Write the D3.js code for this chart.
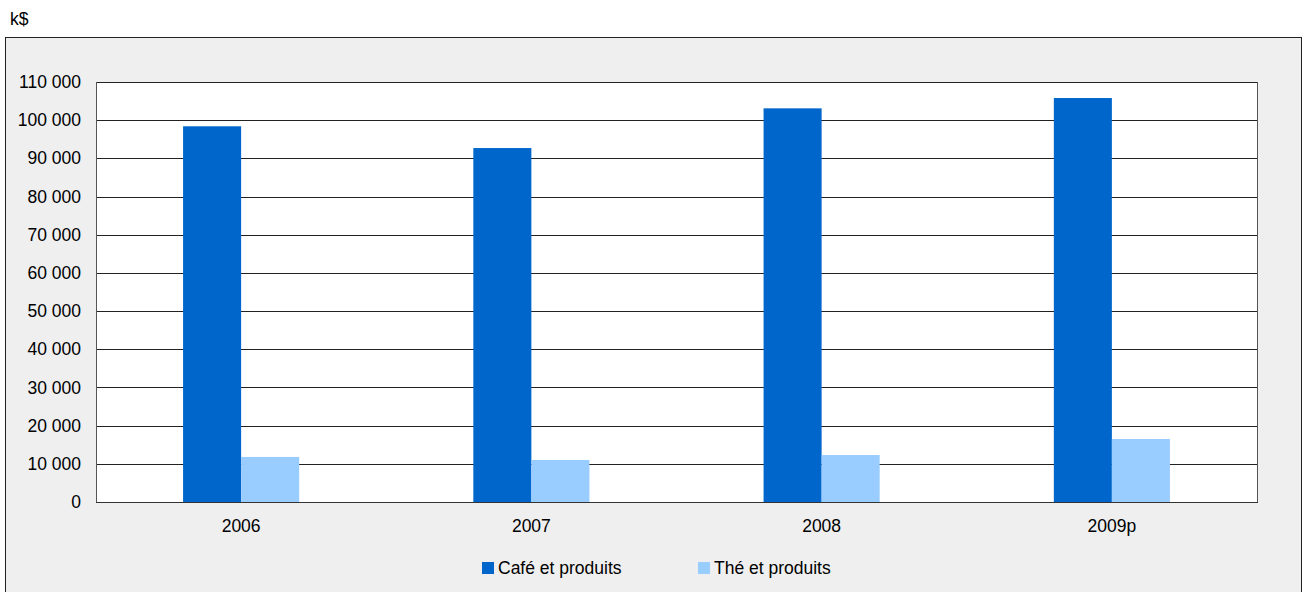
<!DOCTYPE html>
<html><head><meta charset="utf-8">
<script src="https://cdn.jsdelivr.net/npm/d3@7"></script>
<style>html,body{margin:0;padding:0;background:#fff;}svg{display:block;font-family:"Liberation Sans",Arial,sans-serif;}</style>
</head><body>
<svg id="c" width="1302" height="592"></svg>
<script>
const categories = ["2006", "2007", "2008", "2009p"];
const seriesNames = ["Café et produits", "Thé et produits"];
const cafe = [98400, 92700, 103100, 105800];
const the = [11800, 11000, 12300, 16500];
const yTicks = [0, 10000, 20000, 30000, 40000, 50000, 60000, 70000, 80000, 90000, 100000, 110000];
const colors = ["#0066cc", "#99ccff"];

const FS = 17.5;
const svg = d3.select("#c");
const L = 96, R = 1257, T = 82, B = 502;

svg.append("text").attr("x", 10).attr("y", 25).attr("font-size", FS).attr("fill", "#000").text("k$");
svg.append("rect").attr("x", 5.5).attr("y", 37.5).attr("width", 1296).attr("height", 570)
  .attr("fill", "#efefef").attr("stroke", "#222").attr("stroke-width", 1);

svg.append("rect").attr("x", L).attr("y", T).attr("width", R - L).attr("height", B - T).attr("fill", "#fff");

const x = d3.scaleBand().domain(categories).range([L, R]).paddingInner(0.6).paddingOuter(0.3);
const x1 = d3.scaleBand().domain(seriesNames).range([0, x.bandwidth()]);
const y = d3.scaleLinear().domain([0, 110000]).range([B, T]);

const fmt = v => d3.format(",")(v).replace(/,/g, " ");

// gridlines
svg.append("g").selectAll("line").data(yTicks).join("line")
  .attr("x1", L).attr("x2", R)
  .attr("y1", d => Math.round(y(d)) + 0.5).attr("y2", d => Math.round(y(d)) + 0.5)
  .attr("stroke", "#222").attr("stroke-width", 1);

// bars
const data = categories.map((c, i) => ({c, vals: [cafe[i], the[i]]}));
const g = svg.append("g").selectAll("g").data(data).join("g")
  .attr("transform", d => `translate(${x(d.c)},0)`);
g.selectAll("rect").data(d => d.vals.map((v, j) => ({name: seriesNames[j], v, j}))).join("rect")
  .attr("x", d => x1(d.name)).attr("width", x1.bandwidth())
  .attr("y", d => y(d.v)).attr("height", d => y(0) - y(d.v))
  .attr("fill", d => colors[d.j]);

// border of plot
svg.append("line").attr("x1", L + 0.5).attr("x2", L + 0.5).attr("y1", T).attr("y2", B + 1).attr("stroke", "#555");
svg.append("line").attr("x1", R + 0.5).attr("x2", R + 0.5).attr("y1", T).attr("y2", B + 1).attr("stroke", "#555");
svg.append("line").attr("x1", L).attr("x2", R + 1).attr("y1", Math.round(y(0)) + 0.5).attr("y2", Math.round(y(0)) + 0.5).attr("stroke", "#333");

// y axis
const yAxis = d3.axisLeft(y).tickValues(yTicks).tickFormat(fmt).tickSize(0).tickPadding(15);
const ya = svg.append("g").attr("transform", `translate(${L},0)`).call(yAxis);
ya.select(".domain").remove();
ya.selectAll("text").attr("font-size", FS).attr("fill", "#000").attr("font-family", "Liberation Sans, Arial, sans-serif");

// x axis
const xAxis = d3.axisBottom(x).tickSize(0).tickPadding(18);
const xa = svg.append("g").attr("transform", `translate(0,${B})`).call(xAxis);
xa.select(".domain").remove();
xa.selectAll("text").attr("font-size", FS).attr("fill", "#000").attr("font-family", "Liberation Sans, Arial, sans-serif");

// legend
const legX = [482, 698];
const lg = svg.append("g").selectAll("g").data(seriesNames).join("g")
  .attr("transform", (d, i) => `translate(${legX[i]},562)`);
lg.append("rect").attr("width", 12).attr("height", 12).attr("fill", (d, i) => colors[i]);
lg.append("text").attr("x", 16).attr("y", 12).attr("font-size", FS).attr("fill", "#000").text(d => d);
</script>
</body></html>
